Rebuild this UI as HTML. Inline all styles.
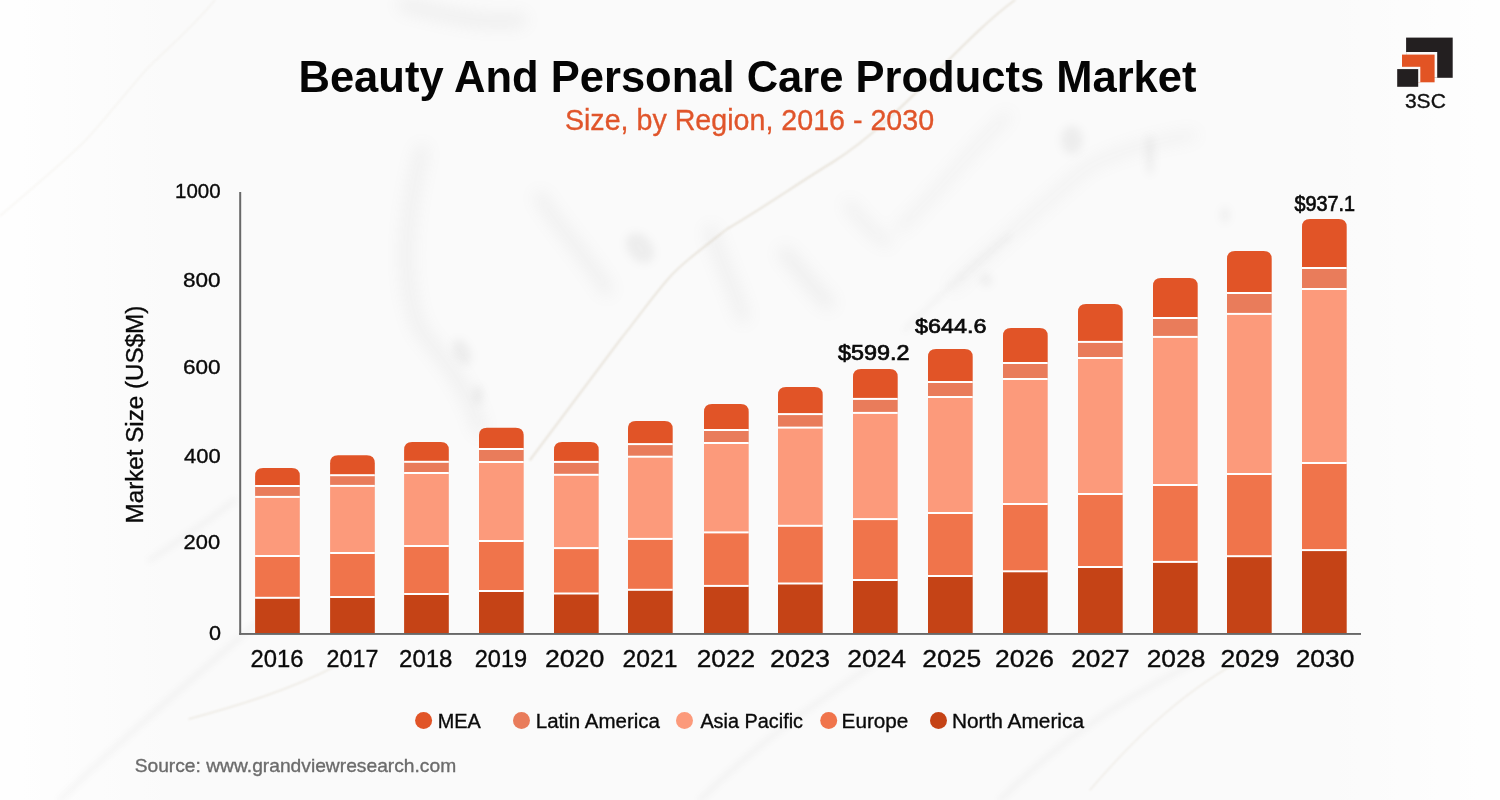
<!DOCTYPE html>
<html><head><meta charset="utf-8">
<style>
html,body{margin:0;padding:0;}
body{width:1500px;height:800px;overflow:hidden;background:#FAFAFA;position:relative;font-family:"Liberation Sans",sans-serif;}
svg{position:absolute;left:0;top:0;}
</style></head><body>
<svg width="1500" height="800" viewBox="0 0 1500 800" font-family="Liberation Sans">
<defs>
<filter id="b6" x="-50%" y="-50%" width="200%" height="200%"><feGaussianBlur stdDeviation="6"/></filter>
<filter id="b8" x="-50%" y="-50%" width="200%" height="200%"><feGaussianBlur stdDeviation="8"/></filter>
<filter id="b4" x="-50%" y="-50%" width="200%" height="200%"><feGaussianBlur stdDeviation="4"/></filter>
<filter id="b3" x="-50%" y="-50%" width="200%" height="200%"><feGaussianBlur stdDeviation="3"/></filter>
<filter id="b1" x="-50%" y="-50%" width="200%" height="200%"><feGaussianBlur stdDeviation="0.8"/></filter>
</defs>
<rect width="1500" height="800" fill="#FAFAFA"/>
<g id="marble">
<linearGradient id="lg" x1="0" y1="0" x2="1" y2="0">
<stop offset="0" stop-color="#FFFFFF" stop-opacity="0.9"/>
<stop offset="0.12" stop-color="#FFFFFF" stop-opacity="0"/>
<stop offset="0.88" stop-color="#FFFFFF" stop-opacity="0"/>
<stop offset="1" stop-color="#FFFFFF" stop-opacity="0.9"/>
</linearGradient>
<rect width="1500" height="800" fill="url(#lg)"/>
<g fill="none" stroke="#8A8A8A" stroke-linecap="round" stroke-linejoin="round" filter="url(#b8)" opacity="0.10">
<path d="M422,150 C405,220 400,280 420,330 C445,360 470,390 480,430" stroke-width="12"/>
<path d="M711,231 C720,260 735,290 743,317" stroke-width="12"/>
<path d="M785,253 C800,270 815,290 828,303" stroke-width="14"/>
<path d="M849,205 C860,220 875,235 887,242" stroke-width="10"/>
<path d="M540,197 C560,230 590,260 607,290" stroke-width="12"/>
<path d="M900,228 C940,190 970,150 1007,116" stroke-width="8"/>
<path d="M953,287 C1000,240 1050,200 1087,167 C1120,150 1160,140 1193,135" stroke-width="8"/>
<path d="M405,5 C450,15 480,25 520,20" stroke-width="14"/>
</g>
<g fill="#808080" filter="url(#b4)" opacity="0.10">
<ellipse cx="640" cy="248" rx="12" ry="17" transform="rotate(-40 640 248)"/>
<ellipse cx="462" cy="352" rx="8" ry="14" transform="rotate(-25 462 352)"/>
<ellipse cx="478" cy="395" rx="5" ry="10"/>
<ellipse cx="1072" cy="140" rx="11" ry="14"/>
<ellipse cx="1150" cy="155" rx="4" ry="20"/>
<ellipse cx="1225" cy="215" rx="4" ry="8"/>
<ellipse cx="986" cy="280" rx="6" ry="6"/>
</g>
<g fill="none" stroke="#8A8A8A" stroke-linecap="round" filter="url(#b3)" opacity="0.07">
<path d="M60,800 C120,740 180,690 260,620" stroke-width="5"/>
<path d="M700,800 C760,740 820,700 880,660" stroke-width="5"/>
<path d="M1000,800 C1060,740 1120,700 1200,660" stroke-width="5"/>
<path d="M150,560 C180,540 210,520 235,500" stroke-width="5"/>
<path d="M1010,235 C980,260 950,285 905,330" stroke-width="4"/>
</g>
<g fill="none" stroke="#B8A582" stroke-linecap="round" stroke-linejoin="round" filter="url(#b1)" opacity="0.32">
<path d="M1015,0 C960,40 900,120 833,162 C800,182 760,210 727,229 C700,250 680,265 668,279 C650,300 640,315 620,340 C590,380 560,420 530,460" stroke-width="1.5"/>
<path d="M215,0 C190,30 160,55 145,71 C120,100 100,125 84,142 C60,165 30,190 0,216" stroke-width="1" opacity="0.6"/>

<path d="M338,665 C290,690 240,705 189,719" stroke-width="1"/>
<path d="M1090,790 C1150,720 1200,680 1260,650" stroke-width="1"/>
</g>
</g>

<g font-weight="bold" fill="#050505"><text x="298.48" y="92" font-size="44.62" textLength="898.06" lengthAdjust="spacingAndGlyphs">Beauty And Personal Care Products Market</text></g>
<g fill="#E0552B" stroke="#E0552B" stroke-width="0.35"><text x="564.91" y="129.7" font-size="29.8" textLength="369.18" lengthAdjust="spacingAndGlyphs">Size, by Region, 2016 - 2030</text></g>
<clipPath id="cpA"><rect x="1406.1" y="37.6" width="46.6" height="40.2"/></clipPath>
<clipPath id="cpB"><rect x="1406.1" y="37.6" width="46.6" height="40.2"/><rect x="1402" y="54.6" width="32.6" height="27.7"/></clipPath>
<rect x="1406.1" y="37.6" width="46.6" height="40.2" fill="#231F20"/>
<rect x="1399.4" y="52" width="37.8" height="32.9" fill="#FAFAFA" clip-path="url(#cpA)"/>
<rect x="1402" y="54.6" width="32.6" height="27.7" fill="#E25424"/>
<rect x="1395" y="66.8" width="25.3" height="22" fill="#FAFAFA" clip-path="url(#cpB)"/>
<rect x="1397.2" y="69.1" width="21" height="17.7" fill="#231F20"/>
<g fill="#111111" stroke="#111111" stroke-width="0.35"><text x="1404.93" y="108.1" font-size="21.06" textLength="40.91" lengthAdjust="spacingAndGlyphs">3SC</text></g>
<text transform="translate(143,523.4) rotate(-90)" x="0" y="0" font-size="23.5" textLength="217.7" lengthAdjust="spacingAndGlyphs" fill="#0A0A0A" stroke="#0A0A0A" stroke-width="0.35">Market Size (US$M)</text>
<g fill="#0A0A0A" stroke="#0A0A0A" stroke-width="0.35">
<text x="175.09" y="197.85" font-size="20.2" textLength="45.52" lengthAdjust="spacingAndGlyphs">1000</text>
<text x="182.99" y="286.5" font-size="20.2" textLength="37.62" lengthAdjust="spacingAndGlyphs">800</text>
<text x="182.99" y="373.5" font-size="20.2" textLength="37.62" lengthAdjust="spacingAndGlyphs">600</text>
<text x="183.99" y="462.5" font-size="20.2" textLength="36.62" lengthAdjust="spacingAndGlyphs">400</text>
<text x="183.59" y="549.45" font-size="20.2" textLength="36.52" lengthAdjust="spacingAndGlyphs">200</text>
<text x="209.09" y="639.6" font-size="20.2" textLength="12.02" lengthAdjust="spacingAndGlyphs">0</text>
</g>
<path fill="#E15427" d="M255.1,486 V476 Q255.1,468 263.1,468 H291.8 Q299.8,468 299.8,476 V486 Z"/>
<rect x="255.1" y="486" width="44.7" height="10.9" fill="#E97C5B"/>
<rect x="255.1" y="496.9" width="44.7" height="59.1" fill="#FC9A7B"/>
<rect x="255.1" y="556" width="44.7" height="41.8" fill="#F0744B"/>
<rect x="255.1" y="597.8" width="44.7" height="35.2" fill="#C54316"/>
<rect x="255.1" y="485" width="44.7" height="2" fill="#FFFFFF"/>
<rect x="255.1" y="495.9" width="44.7" height="2" fill="#FFFFFF"/>
<rect x="255.1" y="555" width="44.7" height="2" fill="#FFFFFF"/>
<rect x="255.1" y="596.8" width="44.7" height="2" fill="#FFFFFF"/>
<path fill="#E15427" d="M330.1,475.2 V463.2 Q330.1,455.2 338.1,455.2 H366.8 Q374.8,455.2 374.8,463.2 V475.2 Z"/>
<rect x="330.1" y="475.2" width="44.7" height="10.7" fill="#E97C5B"/>
<rect x="330.1" y="485.9" width="44.7" height="67.1" fill="#FC9A7B"/>
<rect x="330.1" y="553" width="44.7" height="44" fill="#F0744B"/>
<rect x="330.1" y="597" width="44.7" height="36" fill="#C54316"/>
<rect x="330.1" y="474.2" width="44.7" height="2" fill="#FFFFFF"/>
<rect x="330.1" y="484.9" width="44.7" height="2" fill="#FFFFFF"/>
<rect x="330.1" y="552" width="44.7" height="2" fill="#FFFFFF"/>
<rect x="330.1" y="596" width="44.7" height="2" fill="#FFFFFF"/>
<path fill="#E15427" d="M404.1,461.8 V450 Q404.1,442 412.1,442 H440.8 Q448.8,442 448.8,450 V461.8 Z"/>
<rect x="404.1" y="461.8" width="44.7" height="11.2" fill="#E97C5B"/>
<rect x="404.1" y="473" width="44.7" height="73" fill="#FC9A7B"/>
<rect x="404.1" y="546" width="44.7" height="48" fill="#F0744B"/>
<rect x="404.1" y="594" width="44.7" height="39" fill="#C54316"/>
<rect x="404.1" y="460.8" width="44.7" height="2" fill="#FFFFFF"/>
<rect x="404.1" y="472" width="44.7" height="2" fill="#FFFFFF"/>
<rect x="404.1" y="545" width="44.7" height="2" fill="#FFFFFF"/>
<rect x="404.1" y="593" width="44.7" height="2" fill="#FFFFFF"/>
<path fill="#E15427" d="M479,449 V435.8 Q479,427.8 487,427.8 H515.7 Q523.7,427.8 523.7,435.8 V449 Z"/>
<rect x="479" y="449" width="44.7" height="13" fill="#E97C5B"/>
<rect x="479" y="462" width="44.7" height="79" fill="#FC9A7B"/>
<rect x="479" y="541" width="44.7" height="50" fill="#F0744B"/>
<rect x="479" y="591" width="44.7" height="42" fill="#C54316"/>
<rect x="479" y="448" width="44.7" height="2" fill="#FFFFFF"/>
<rect x="479" y="461" width="44.7" height="2" fill="#FFFFFF"/>
<rect x="479" y="540" width="44.7" height="2" fill="#FFFFFF"/>
<rect x="479" y="590" width="44.7" height="2" fill="#FFFFFF"/>
<path fill="#E15427" d="M554,461.9 V449.9 Q554,441.9 562,441.9 H590.7 Q598.7,441.9 598.7,449.9 V461.9 Z"/>
<rect x="554" y="461.9" width="44.7" height="12.9" fill="#E97C5B"/>
<rect x="554" y="474.8" width="44.7" height="73.3" fill="#FC9A7B"/>
<rect x="554" y="548.1" width="44.7" height="45.4" fill="#F0744B"/>
<rect x="554" y="593.5" width="44.7" height="39.5" fill="#C54316"/>
<rect x="554" y="460.9" width="44.7" height="2" fill="#FFFFFF"/>
<rect x="554" y="473.8" width="44.7" height="2" fill="#FFFFFF"/>
<rect x="554" y="547.1" width="44.7" height="2" fill="#FFFFFF"/>
<rect x="554" y="592.5" width="44.7" height="2" fill="#FFFFFF"/>
<path fill="#E15427" d="M628,444.1 V428.9 Q628,420.9 636,420.9 H664.7 Q672.7,420.9 672.7,428.9 V444.1 Z"/>
<rect x="628" y="444.1" width="44.7" height="12.6" fill="#E97C5B"/>
<rect x="628" y="456.7" width="44.7" height="82.2" fill="#FC9A7B"/>
<rect x="628" y="538.9" width="44.7" height="50.9" fill="#F0744B"/>
<rect x="628" y="589.8" width="44.7" height="43.2" fill="#C54316"/>
<rect x="628" y="443.1" width="44.7" height="2" fill="#FFFFFF"/>
<rect x="628" y="455.7" width="44.7" height="2" fill="#FFFFFF"/>
<rect x="628" y="537.9" width="44.7" height="2" fill="#FFFFFF"/>
<rect x="628" y="588.8" width="44.7" height="2" fill="#FFFFFF"/>
<path fill="#E15427" d="M704,430 V412.1 Q704,404.1 712,404.1 H740.7 Q748.7,404.1 748.7,412.1 V430 Z"/>
<rect x="704" y="430" width="44.7" height="13" fill="#E97C5B"/>
<rect x="704" y="443" width="44.7" height="89.4" fill="#FC9A7B"/>
<rect x="704" y="532.4" width="44.7" height="53.5" fill="#F0744B"/>
<rect x="704" y="585.9" width="44.7" height="47.1" fill="#C54316"/>
<rect x="704" y="429" width="44.7" height="2" fill="#FFFFFF"/>
<rect x="704" y="442" width="44.7" height="2" fill="#FFFFFF"/>
<rect x="704" y="531.4" width="44.7" height="2" fill="#FFFFFF"/>
<rect x="704" y="584.9" width="44.7" height="2" fill="#FFFFFF"/>
<path fill="#E15427" d="M778,414.1 V395 Q778,387 786,387 H814.7 Q822.7,387 822.7,395 V414.1 Z"/>
<rect x="778" y="414.1" width="44.7" height="13.5" fill="#E97C5B"/>
<rect x="778" y="427.6" width="44.7" height="98.2" fill="#FC9A7B"/>
<rect x="778" y="525.8" width="44.7" height="57.7" fill="#F0744B"/>
<rect x="778" y="583.5" width="44.7" height="49.5" fill="#C54316"/>
<rect x="778" y="413.1" width="44.7" height="2" fill="#FFFFFF"/>
<rect x="778" y="426.6" width="44.7" height="2" fill="#FFFFFF"/>
<rect x="778" y="524.8" width="44.7" height="2" fill="#FFFFFF"/>
<rect x="778" y="582.5" width="44.7" height="2" fill="#FFFFFF"/>
<path fill="#E15427" d="M853,398.9 V377.1 Q853,369.1 861,369.1 H889.7 Q897.7,369.1 897.7,377.1 V398.9 Z"/>
<rect x="853" y="398.9" width="44.7" height="14" fill="#E97C5B"/>
<rect x="853" y="412.9" width="44.7" height="106.2" fill="#FC9A7B"/>
<rect x="853" y="519.1" width="44.7" height="60.9" fill="#F0744B"/>
<rect x="853" y="580" width="44.7" height="53" fill="#C54316"/>
<rect x="853" y="397.9" width="44.7" height="2" fill="#FFFFFF"/>
<rect x="853" y="411.9" width="44.7" height="2" fill="#FFFFFF"/>
<rect x="853" y="518.1" width="44.7" height="2" fill="#FFFFFF"/>
<rect x="853" y="579" width="44.7" height="2" fill="#FFFFFF"/>
<path fill="#E15427" d="M928,382 V357 Q928,349 936,349 H964.7 Q972.7,349 972.7,357 V382 Z"/>
<rect x="928" y="382" width="44.7" height="15" fill="#E97C5B"/>
<rect x="928" y="397" width="44.7" height="116" fill="#FC9A7B"/>
<rect x="928" y="513" width="44.7" height="63" fill="#F0744B"/>
<rect x="928" y="576" width="44.7" height="57" fill="#C54316"/>
<rect x="928" y="381" width="44.7" height="2" fill="#FFFFFF"/>
<rect x="928" y="396" width="44.7" height="2" fill="#FFFFFF"/>
<rect x="928" y="512" width="44.7" height="2" fill="#FFFFFF"/>
<rect x="928" y="575" width="44.7" height="2" fill="#FFFFFF"/>
<path fill="#E15427" d="M1003,363 V335.9 Q1003,327.9 1011,327.9 H1039.7 Q1047.7,327.9 1047.7,335.9 V363 Z"/>
<rect x="1003" y="363" width="44.7" height="16" fill="#E97C5B"/>
<rect x="1003" y="379" width="44.7" height="125" fill="#FC9A7B"/>
<rect x="1003" y="504" width="44.7" height="67.3" fill="#F0744B"/>
<rect x="1003" y="571.3" width="44.7" height="61.7" fill="#C54316"/>
<rect x="1003" y="362" width="44.7" height="2" fill="#FFFFFF"/>
<rect x="1003" y="378" width="44.7" height="2" fill="#FFFFFF"/>
<rect x="1003" y="503" width="44.7" height="2" fill="#FFFFFF"/>
<rect x="1003" y="570.3" width="44.7" height="2" fill="#FFFFFF"/>
<path fill="#E15427" d="M1078,341.9 V312 Q1078,304 1086,304 H1114.7 Q1122.7,304 1122.7,312 V341.9 Z"/>
<rect x="1078" y="341.9" width="44.7" height="16.1" fill="#E97C5B"/>
<rect x="1078" y="358" width="44.7" height="136" fill="#FC9A7B"/>
<rect x="1078" y="494" width="44.7" height="73" fill="#F0744B"/>
<rect x="1078" y="567" width="44.7" height="66" fill="#C54316"/>
<rect x="1078" y="340.9" width="44.7" height="2" fill="#FFFFFF"/>
<rect x="1078" y="357" width="44.7" height="2" fill="#FFFFFF"/>
<rect x="1078" y="493" width="44.7" height="2" fill="#FFFFFF"/>
<rect x="1078" y="566" width="44.7" height="2" fill="#FFFFFF"/>
<path fill="#E15427" d="M1153,318 V286 Q1153,278 1161,278 H1189.7 Q1197.7,278 1197.7,286 V318 Z"/>
<rect x="1153" y="318" width="44.7" height="18.9" fill="#E97C5B"/>
<rect x="1153" y="336.9" width="44.7" height="148.1" fill="#FC9A7B"/>
<rect x="1153" y="485" width="44.7" height="76.9" fill="#F0744B"/>
<rect x="1153" y="561.9" width="44.7" height="71.1" fill="#C54316"/>
<rect x="1153" y="317" width="44.7" height="2" fill="#FFFFFF"/>
<rect x="1153" y="335.9" width="44.7" height="2" fill="#FFFFFF"/>
<rect x="1153" y="484" width="44.7" height="2" fill="#FFFFFF"/>
<rect x="1153" y="560.9" width="44.7" height="2" fill="#FFFFFF"/>
<path fill="#E15427" d="M1227,293 V259 Q1227,251 1235,251 H1263.7 Q1271.7,251 1271.7,259 V293 Z"/>
<rect x="1227" y="293" width="44.7" height="20.9" fill="#E97C5B"/>
<rect x="1227" y="313.9" width="44.7" height="160.1" fill="#FC9A7B"/>
<rect x="1227" y="474" width="44.7" height="82.2" fill="#F0744B"/>
<rect x="1227" y="556.2" width="44.7" height="76.8" fill="#C54316"/>
<rect x="1227" y="292" width="44.7" height="2" fill="#FFFFFF"/>
<rect x="1227" y="312.9" width="44.7" height="2" fill="#FFFFFF"/>
<rect x="1227" y="473" width="44.7" height="2" fill="#FFFFFF"/>
<rect x="1227" y="555.2" width="44.7" height="2" fill="#FFFFFF"/>
<path fill="#E15427" d="M1302,268 V227 Q1302,219 1310,219 H1338.7 Q1346.7,219 1346.7,227 V268 Z"/>
<rect x="1302" y="268" width="44.7" height="21" fill="#E97C5B"/>
<rect x="1302" y="289" width="44.7" height="174" fill="#FC9A7B"/>
<rect x="1302" y="463" width="44.7" height="87.1" fill="#F0744B"/>
<rect x="1302" y="550.1" width="44.7" height="82.9" fill="#C54316"/>
<rect x="1302" y="267" width="44.7" height="2" fill="#FFFFFF"/>
<rect x="1302" y="288" width="44.7" height="2" fill="#FFFFFF"/>
<rect x="1302" y="462" width="44.7" height="2" fill="#FFFFFF"/>
<rect x="1302" y="549.1" width="44.7" height="2" fill="#FFFFFF"/>
<rect x="239.2" y="192" width="2" height="442.9" fill="#686868"/>
<rect x="239.2" y="633" width="1121.8" height="1.9" fill="#686868"/>
<g fill="#0A0A0A" stroke="#0A0A0A" stroke-width="0.35">
<text x="250.49" y="667" font-size="24.5" textLength="52.95" lengthAdjust="spacingAndGlyphs">2016</text>
<text x="326.59" y="667" font-size="24.5" textLength="51.75" lengthAdjust="spacingAndGlyphs">2017</text>
<text x="399.02" y="667.1" font-size="24.5" textLength="53.45" lengthAdjust="spacingAndGlyphs">2018</text>
<text x="474.71" y="667.1" font-size="24.5" textLength="52.45" lengthAdjust="spacingAndGlyphs">2019</text>
<text x="544.9" y="667.1" font-size="24.5" textLength="59.45" lengthAdjust="spacingAndGlyphs">2020</text>
<text x="622.59" y="667.1" font-size="24.5" textLength="54.95" lengthAdjust="spacingAndGlyphs">2021</text>
<text x="696.78" y="667.1" font-size="24.5" textLength="58.45" lengthAdjust="spacingAndGlyphs">2022</text>
<text x="769.97" y="667.1" font-size="24.5" textLength="59.95" lengthAdjust="spacingAndGlyphs">2023</text>
<text x="847.16" y="667.1" font-size="24.5" textLength="58.95" lengthAdjust="spacingAndGlyphs">2024</text>
<text x="922.35" y="667.1" font-size="24.5" textLength="58.95" lengthAdjust="spacingAndGlyphs">2025</text>
<text x="995.04" y="667.1" font-size="24.5" textLength="58.95" lengthAdjust="spacingAndGlyphs">2026</text>
<text x="1071.23" y="667.1" font-size="24.5" textLength="58.45" lengthAdjust="spacingAndGlyphs">2027</text>
<text x="1146.69" y="667.1" font-size="24.5" textLength="58.75" lengthAdjust="spacingAndGlyphs">2028</text>
<text x="1220.59" y="667.1" font-size="24.5" textLength="58.95" lengthAdjust="spacingAndGlyphs">2029</text>
<text x="1295.69" y="667.1" font-size="24.5" textLength="58.75" lengthAdjust="spacingAndGlyphs">2030</text>
</g>
<g fill="#0A0A0A" stroke="#0A0A0A" stroke-width="0.7">
<text x="837.92" y="360" font-size="21.2" textLength="71.52" lengthAdjust="spacingAndGlyphs">$599.2</text>
<text x="914.98" y="332.8" font-size="20.34" textLength="71.43" lengthAdjust="spacingAndGlyphs">$644.6</text>
<text x="1294.43" y="211.1" font-size="22.49" textLength="60.65" lengthAdjust="spacingAndGlyphs">$937.1</text>
</g>
<circle cx="423.6" cy="720.4" r="8.5" fill="#E15427"/>
<circle cx="521.5" cy="720.4" r="8.5" fill="#E97C5B"/>
<circle cx="684.5" cy="720.4" r="8.5" fill="#FC9A7B"/>
<circle cx="828.7" cy="720.4" r="8.5" fill="#F0744B"/>
<circle cx="938.5" cy="720.4" r="8.5" fill="#C54316"/>
<g fill="#0A0A0A" stroke="#0A0A0A" stroke-width="0.35">
<text x="437.78" y="728" font-size="20.35" textLength="43.03" lengthAdjust="spacingAndGlyphs">MEA</text>
<text x="535.78" y="728" font-size="20.35" textLength="124.23" lengthAdjust="spacingAndGlyphs">Latin America</text>
<text x="700.38" y="728" font-size="20.35" textLength="102.63" lengthAdjust="spacingAndGlyphs">Asia Pacific</text>
<text x="841.58" y="728" font-size="20.35" textLength="66.83" lengthAdjust="spacingAndGlyphs">Europe</text>
<text x="951.98" y="728" font-size="20.35" textLength="132.03" lengthAdjust="spacingAndGlyphs">North America</text>
</g>
<g fill="#6B6B6B" stroke="#6B6B6B" stroke-width="0.35"><text x="134.67" y="772.3" font-size="19.05" textLength="321.51" lengthAdjust="spacingAndGlyphs">Source: www.grandviewresearch.com</text></g>
</svg>
</body></html>
